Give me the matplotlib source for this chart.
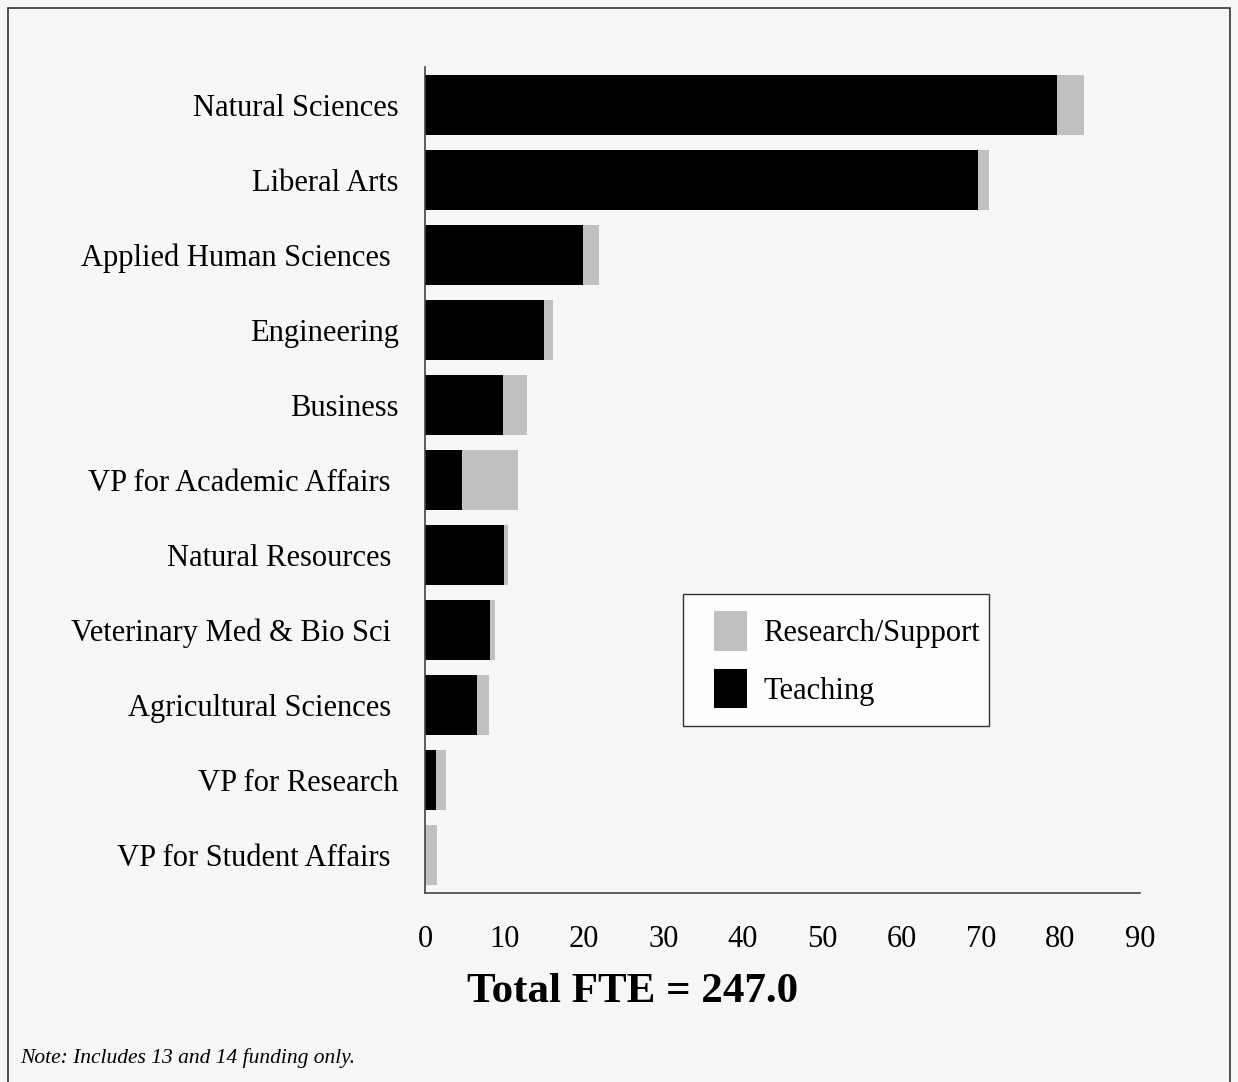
import matplotlib
matplotlib.use('Agg')
import matplotlib.pyplot as plt
from matplotlib.patches import Rectangle
from matplotlib.container import BarContainer
from matplotlib.legend_handler import HandlerPatch
import numpy as np

units = ['Natural Sciences', 'Liberal Arts', 'Applied Human Sciences ', 'Engineering',
         'Business', 'VP for Academic Affairs ', 'Natural Resources ', 'Veterinary Med & Bio Sci ',
         'Agricultural Sciences ', 'VP for Research', 'VP for Student Affairs ']
teaching = [79.5, 69.6, 19.9, 15.0, 9.8, 4.7, 9.9, 8.2, 6.6, 1.4, 0.0]
research = [3.4, 1.4, 2.0, 1.1, 3.0, 7.0, 0.5, 0.6, 1.5, 1.2, 1.5]
xticks = [0, 10, 20, 30, 40, 50, 60, 70, 80, 90]

plt.rcParams['font.family'] = ['Liberation Serif', 'DejaVu Serif']
W, H = 1238, 1082
fig = plt.figure(figsize=(W / 100, H / 100), dpi=100, facecolor='#f7f7f7')

ax = fig.add_axes([425 / W, 1 - 893 / H, (1140 - 425) / W, (893 - 67) / H])
ax.set_facecolor('#f7f7f7')
y = np.arange(len(units))
ax.barh(y, teaching, height=0.8, color='black', label='Teaching')
ax.barh(y, research, left=teaching, height=0.8, color='#c0c0c0', label='Research/Support')
ax.set_ylim(len(units) - 0.5, -0.5)
ax.set_xlim(0, 90)
ax.set_xticks(xticks)
ax.set_yticks(y)
ax.set_yticklabels(units)
ax.tick_params(axis='both', length=0, labelsize=22)
ax.tick_params(axis='y', pad=19)
ax.tick_params(axis='x', pad=23)
for s in ['top', 'right']:
    ax.spines[s].set_visible(False)
for s in ['left', 'bottom']:
    ax.spines[s].set_color('#444444')
    ax.spines[s].set_linewidth(1.2)


# square legend keys pushed a bit in from the frame
def key_patch(legend, orig_handle, xdescent, ydescent, width, height, fontsize):
    return Rectangle((-xdescent + 10, -ydescent), width - 10, height)


def key_update(legend_handle, orig_handle):
    legend_handle.update_from(orig_handle.patches[0])


h, l = ax.get_legend_handles_labels()
leg = fig.legend(h[::-1], l[::-1], loc='upper left',
                 bbox_to_anchor=(683 / W, 1 - 594 / H, (989 - 683) / W, 0),
                 mode='expand', fontsize=22, frameon=True, fancybox=False,
                 handlelength=1.53, handleheight=1.6, handletextpad=0.52,
                 borderpad=0.57, labelspacing=0.6, borderaxespad=0,
                 handler_map={BarContainer: HandlerPatch(patch_func=key_patch,
                                                         update_func=key_update)})
leg.get_frame().set_edgecolor('black')
leg.get_frame().set_facecolor('white')
leg.get_frame().set_linewidth(1.0)

fig.text(633 / W, 1 - 992 / H, 'Total FTE = 247.0', ha='center', va='center',
         fontsize=31, fontweight='bold')
fig.text(20 / W, 1 - 1058 / H, 'Note: Includes 13 and 14 funding only.', ha='left',
         va='center', fontsize=15.5, style='italic')

fig.patches.append(Rectangle((8 / W, -0.01), (1230 - 8) / W, 1.01 - 8 / H,
                             transform=fig.transFigure, fill=False,
                             edgecolor='#333333', linewidth=1.2))

fig.savefig('out.png', dpi=100, facecolor=fig.get_facecolor())
